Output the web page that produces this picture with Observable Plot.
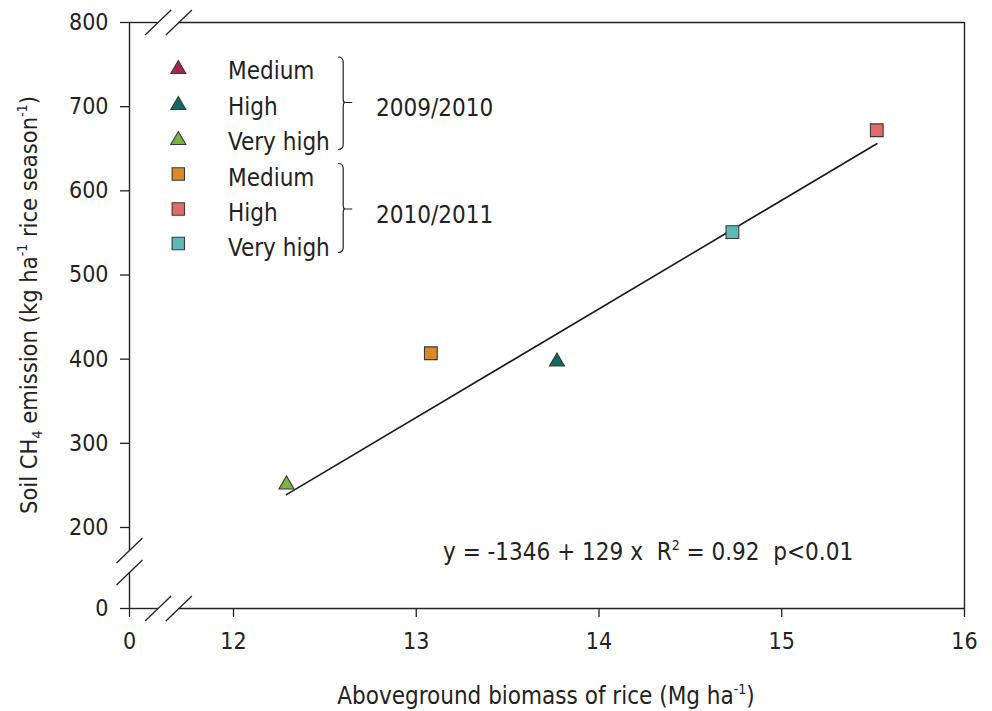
<!DOCTYPE html>
<html>
<head>
<meta charset="utf-8">
<script src="https://cdn.jsdelivr.net/npm/d3@7"></script>
<script src="https://cdn.jsdelivr.net/npm/@observablehq/plot@0.6"></script>
<style>
  html, body { margin: 0; padding: 0; background: #fff; }
  #chart { width: 992px; height: 711px; }
</style>
</head>
<body>
<div id="chart"></div>
<script>
// ---- data ----
const seasons   = ["2009/2010", "2009/2010", "2010/2011", "2010/2011", "2010/2011"];
const levels    = ["Very high", "High", "Medium", "Very high", "High"];
const biomass   = [12.29, 13.77, 13.08, 14.73, 15.52];
const ch4       = [251, 397, 407, 551, 672];

const legendSeasons = ["2009/2010", "2010/2011"];
const legendLevels  = ["Medium", "High", "Very high"];
const colors2009 = ["#a4284d", "#12695f", "#7bb241"];
const colors2010 = ["#d98a24", "#e06c6a", "#5cb9b5"];

const fitX = [12.29, 15.52];
const fitY = [239, 656];

const xTicks = [0, 12, 13, 14, 15, 16];
const yTicks = [0, 200, 300, 400, 500, 600, 700, 800];
const xBreaks = [3.3, 5.7];
const yBreaks = [143, 89];
const equation = "y = -1346 + 129 x";

const FONT = "'DejaVu Sans Condensed', 'DejaVu Sans', sans-serif";
const INK = "#222";

function colorOf(season, level) {
  const i = legendLevels.indexOf(level);
  return season === "2009/2010" ? colors2009[i] : colors2010[i];
}

const points = biomass.map((b, i) => ({
  x: b, y: ch4[i], season: seasons[i], level: levels[i], color: colorOf(seasons[i], levels[i])
}));
const fit = fitX.map((x, i) => ({x, y: fitY[i]}));

const slash = {
  draw(ctx) { ctx.moveTo(-13, 12.5); ctx.lineTo(13, -12.5); }
};

const plot = Plot.plot({
  width: 992,
  height: 711,
  marginLeft: 129,
  marginRight: 28,
  marginTop: 22,
  marginBottom: 103,
  style: {fontFamily: FONT, fontSize: "23px", color: INK, background: "#fff", overflow: "visible"},
  x: {type: "linear", domain: [0, 12, 16], range: [129, 233, 964]},
  y: {type: "linear", domain: [0, 200, 800], range: [608, 527, 22]},
  color: {type: "identity"},
  marks: [
    Plot.axisX({ticks: xTicks, tickSize: 9, tickPadding: 15, tickFormat: d => String(d), label: null, stroke: INK, strokeWidth: 1.3, fontSize: 23}),
    Plot.axisY({ticks: yTicks, tickSize: 9, tickPadding: 12, tickFormat: d => String(d), label: null, stroke: INK, strokeWidth: 1.3, fontSize: 23}),
    // frame with breaks
    Plot.ruleY([0], {x1: 0, x2: xBreaks[0], stroke: INK, strokeWidth: 1.4}),
    Plot.ruleY([0], {x1: xBreaks[1], x2: 16, stroke: INK, strokeWidth: 1.4}),
    Plot.ruleY([800], {x1: 0, x2: xBreaks[0], stroke: INK, strokeWidth: 1.4}),
    Plot.ruleY([800], {x1: xBreaks[1], x2: 16, stroke: INK, strokeWidth: 1.4}),
    Plot.ruleX([0], {y1: 800, y2: yBreaks[0], stroke: INK, strokeWidth: 1.4}),
    Plot.ruleX([0], {y1: yBreaks[1], y2: 0, stroke: INK, strokeWidth: 1.4}),
    Plot.ruleX([16], {y1: 0, y2: 800, stroke: INK, strokeWidth: 1.4}),
    Plot.dot(xBreaks, {x: d => d, y: 0, symbol: slash, r: 5, fill: "none", stroke: INK, strokeWidth: 1.3}),
    Plot.dot(xBreaks, {x: d => d, y: 800, symbol: slash, r: 5, fill: "none", stroke: INK, strokeWidth: 1.3}),
    Plot.dot(yBreaks, {x: 0, y: d => d, symbol: slash, r: 5, fill: "none", stroke: INK, strokeWidth: 1.3}),
    // regression line
    Plot.line(fit, {x: "x", y: "y", stroke: "#1a1a1a", strokeWidth: 1.6}),
    // points
    Plot.dot(points.filter(d => d.season === "2009/2010"), {x: "x", y: "y", symbol: "triangle", r: 5.6, fill: "color", stroke: "#3a3a3a", strokeWidth: 1.1}),
    Plot.dot(points.filter(d => d.season === "2010/2011"), {x: "x", y: "y", symbol: "square", r: 7.2, fill: "color", stroke: "#3a3a3a", strokeWidth: 1.1})
  ]
});

document.getElementById("chart").appendChild(plot);

// ---- annotations: legend, titles, equation ----
const svg = d3.select(plot);
const g = svg.append("g").attr("font-family", FONT).attr("fill", INK).attr("text-anchor", "start");

const rowY = [67, 103, 138, 174, 209, 243.5];
const legendRows = [];
legendSeasons.forEach((s, si) => legendLevels.forEach((l, li) => legendRows.push({s, l, si, li})));
legendRows.forEach((r, k) => {
  const cy = rowY[k];
  const isTri = r.si === 0;
  const sym = d3.symbol().type(isTri ? d3.symbolTriangle : d3.symbolSquare)
    .size(isTri ? Math.PI * 5.6 * 5.6 : Math.PI * 7.0 * 7.0);
  g.append("path").attr("d", sym())
    .attr("transform", `translate(178.3,${isTri ? cy + 2.2 : cy})`)
    .attr("fill", isTri ? colors2009[r.li] : colors2010[r.li])
    .attr("stroke", "#3a3a3a").attr("stroke-width", 1.1);
  g.append("text").attr("x", 228).attr("y", cy + 3.5).attr("dy", "0.36em")
    .attr("font-size", 24).text(r.l);
});

// braces
const braces = [{top: 57, mid: 102.5, bot: 149.5}, {top: 163.5, mid: 209, bot: 252.5}];
braces.forEach((b, i) => {
  const x0 = 338, x1 = 343.2;
  const d = `M${x0},${b.top} Q${x1},${b.top} ${x1},${b.top + 5} L${x1},${b.mid - 4} Q${x1},${b.mid} ${x1 + 2},${b.mid}`
    + ` Q${x1},${b.mid} ${x1},${b.mid + 4} L${x1},${b.bot - 5} Q${x1},${b.bot} ${x0},${b.bot}`
    + ` M${x1},${b.mid} L${x1 + 9},${b.mid}`;
  g.append("path").attr("d", d).attr("fill", "none").attr("stroke", INK).attr("stroke-width", 1.2);
  g.append("text").attr("x", 376).attr("y", b.mid + 5).attr("dy", "0.36em")
    .attr("font-size", 24).text(legendSeasons[i]);
});

// equation
const eq = g.append("text").attr("x", 443).attr("y", 560).attr("font-size", 24);
eq.append("tspan").text(equation + "\u00a0\u00a0R");
eq.append("tspan").attr("font-size", 14).attr("dy", -10).text("2");
eq.append("tspan").attr("dy", 10).text(" = 0.92\u00a0\u00a0p<0.01");

// x title
const xt = g.append("text").attr("x", 546).attr("y", 704).attr("text-anchor", "middle").attr("font-size", 24);
xt.append("tspan").text("Aboveground biomass of rice (Mg ha");
xt.append("tspan").attr("font-size", 14).attr("dy", -10).text("-1");
xt.append("tspan").attr("dy", 10).text(")");

// y title
const yt = g.append("text").attr("transform", "translate(37,305) rotate(-90)").attr("text-anchor", "middle").attr("font-size", 23.5);
yt.append("tspan").text("Soil CH");
yt.append("tspan").attr("font-size", 14).attr("dy", 5).text("4");
yt.append("tspan").attr("dy", -5).text(" emission (kg ha");
yt.append("tspan").attr("font-size", 14).attr("dy", -10).text("-1");
yt.append("tspan").attr("dy", 10).text(" rice season");
yt.append("tspan").attr("font-size", 14).attr("dy", -10).text("-1");
yt.append("tspan").attr("dy", 10).text(")");
</script>
</body>
</html>
